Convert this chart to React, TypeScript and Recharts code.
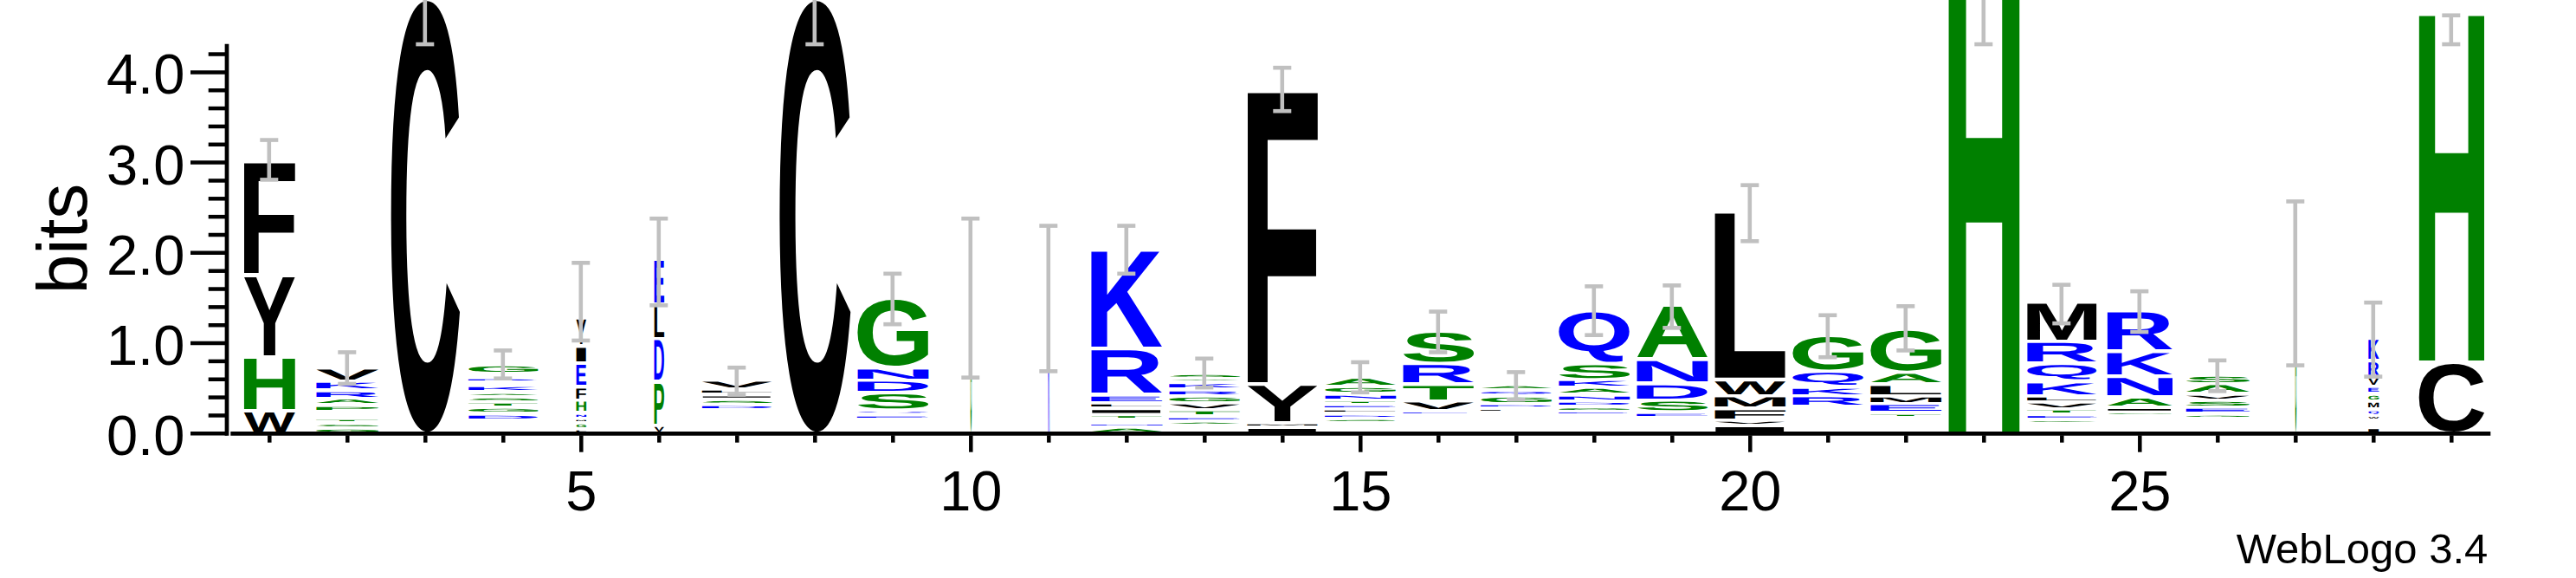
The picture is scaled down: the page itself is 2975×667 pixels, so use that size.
import { ComposedChart, Bar, XAxis, YAxis, ReferenceLine } from "recharts";

const FONT = '"Liberation Sans", Arial, Helvetica, sans-serif';

// sequence positions
const positions = [1, 2, 3, 4, 5, 6, 7, 8, 9, 10, 11, 12, 13, 14, 15, 16, 17, 18, 19, 20, 21, 22, 23, 24, 25, 26, 27, 28, 29];

// letters of every stack, from the bottom up
const stackLetters = [
  "WHYF",
  "GSTIEPARKV",
  "C",
  "WCMFYIDGTSAKNRQG",
  "LGMNHFEIY",
  "VPDLE",
  "WCMFYHQEDSILV",
  "C",
  "WCMFYEQSDNG",
  "G",
  "K",
  "ANSTILERK",
  "WCMAETVGRKAS",
  "IMYF",
  "WCMFSDLETNGA",
  "WCMFYHEVTRS",
  "WCMFYIHLDGQA",
  "WCMFYIEGDNAKSQ",
  "WCMFYESDNA",
  "IVFMWL",
  "WCMFYIHPRKQG",
  "WCFYITEMLAG",
  "H",
  "WCFSETVLKQRM",
  "WCMFYGIANKR",
  "WCMFYGESVAS",
  "G",
  "ILFWQMGEVRK",
  "CH",
];

// bits taken by each letter, same order as stackLetters
const stackBits = [
  [0.25, 0.6, 0.905, 1.265],
  [0.06, 0.055, 0.05, 0.04, 0.04, 0.07, 0.075, 0.09, 0.1, 0.15],
  [4.82],
  [0.025, 0.025, 0.025, 0.025, 0.025, 0.025, 0.07, 0.07, 0.06, 0.06, 0.05, 0.07, 0.04, 0.05, 0.04, 0.1],
  [0.05, 0.07, 0.05, 0.06, 0.14, 0.15, 0.26, 0.19, 0.31],
  [0.09, 0.485, 0.475, 0.38, 0.5],
  [0.0325, 0.0325, 0.0325, 0.0325, 0.0325, 0.0325, 0.0325, 0.0325, 0.06, 0.06, 0.05, 0.06, 0.1],
  [4.82],
  [0.032, 0.032, 0.032, 0.032, 0.032, 0.05, 0.045, 0.195, 0.14, 0.14, 0.77],
  [1.5],
  [1.5],
  [0.07, 0.045, 0.04, 0.055, 0.07, 0.06, 0.09, 0.51, 1.1],
  [0.03, 0.03, 0.03, 0.05, 0.05, 0.07, 0.08, 0.08, 0.07, 0.075, 0.045, 0.06],
  [0.07, 0.05, 0.43, 3.27],
  [0.03, 0.03, 0.03, 0.03, 0.05, 0.05, 0.05, 0.05, 0.05, 0.07, 0.08, 0.105],
  [0.034, 0.034, 0.034, 0.034, 0.034, 0.034, 0.046, 0.11, 0.19, 0.23, 0.36],
  [0.0336, 0.0336, 0.0336, 0.0336, 0.0336, 0.0336, 0.0336, 0.045, 0.05, 0.09, 0.06, 0.06],
  [0.0333, 0.0333, 0.0333, 0.0333, 0.0333, 0.0333, 0.045, 0.055, 0.06, 0.07, 0.08, 0.09, 0.18, 0.59],
  [0.036, 0.036, 0.036, 0.036, 0.036, 0.06, 0.13, 0.185, 0.265, 0.6],
  [0.09, 0.06, 0.13, 0.14, 0.18, 1.86],
  [0.0375, 0.0375, 0.0375, 0.0375, 0.0375, 0.0375, 0.0375, 0.0375, 0.12, 0.1, 0.17, 0.4],
  [0.036, 0.036, 0.036, 0.036, 0.036, 0.05, 0.1, 0.09, 0.13, 0.13, 0.48],
  [5.5],
  [0.0367, 0.0367, 0.0367, 0.045, 0.055, 0.06, 0.08, 0.07, 0.16, 0.195, 0.245, 0.44],
  [0.038, 0.038, 0.038, 0.038, 0.038, 0.045, 0.055, 0.115, 0.23, 0.275, 0.45],
  [0.034, 0.034, 0.034, 0.034, 0.034, 0.05, 0.07, 0.08, 0.07, 0.11, 0.1],
  [1.68],
  [0.065, 0.04, 0.04, 0.055, 0.07, 0.09, 0.08, 0.08, 0.11, 0.18, 0.25],
  [0.79, 3.89],
];

// relative stack width (columns with many gaps are drawn narrower)
const stackWidth = [
  0.72, 0.88, 0.97, 0.98, 0.14, 0.14, 0.99, 1, 1, 0.02, 0.02, 1, 1, 0.99, 1,
  1, 1, 1, 1, 1, 1, 1, 1, 0.98, 0.92, 0.9, 0.02, 0.15, 0.92,
];

// error bar ends, bits
const errLow = [
  2.81, 0.55, 4.31, 0.61, 1.03, 1.42, 0.43, 4.31, 1.21, 0.62, 0.69, 1.77, 0.51, 3.57, 0.456,
  0.9, 0.375, 1.09, 1.17, 2.13, 0.845, 0.92, 4.31, 1.22, 1.125, 0.47, 0.755, 0.63, 4.31,
];
const errHigh = [
  3.25, 0.9, 6.5, 0.92, 1.89, 2.38, 0.73, 6.5, 1.77, 2.38, 2.3, 2.3, 0.83, 4.05, 0.79,
  1.35, 0.68, 1.63, 1.64, 2.75, 1.31, 1.41, 6.5, 1.647, 1.575, 0.81, 2.57, 1.45, 4.63,
];

const yTicks = [0, 0.2, 0.4, 0.6, 0.8, 1, 1.2, 1.4, 1.6, 1.8, 2, 2.2, 2.4, 2.6, 2.8, 3, 3.2, 3.4, 3.6, 3.8, 4, 4.2];

const letterColor = (ch: string) =>
  "KRQNDE".includes(ch) ? "#0000ff" : "HGSTAP".includes(ch) ? "#008000" : "#000000";

// ink box of each glyph, so a letter can be stretched to fill its slot
const glyphBox: Record<string, { l: number; r: number; a: number; d: number }> = {};
{
  const ctx = document.createElement("canvas").getContext("2d");
  for (const ch of "ACDEFGHIKLMNPQRSTVWY") {
    let box = { l: -8, r: 136, a: 143, d: 0 };
    if (ctx) {
      ctx.font = `bold 200px ${FONT}`;
      const m = ctx.measureText(ch);
      if (m.actualBoundingBoxAscent + m.actualBoundingBoxDescent > 0) {
        box = {
          l: m.actualBoundingBoxLeft,
          r: m.actualBoundingBoxRight,
          a: m.actualBoundingBoxAscent,
          d: m.actualBoundingBoxDescent,
        };
      }
    }
    glyphBox[ch] = box;
  }
}

const maxSlots = Math.max(...stackLetters.map((s) => s.length));
const slots = Array.from({ length: maxSlots }, (_, i) => i);

const data = positions.map((p, i) => {
  const row: any = {
    pos: p,
    letters: stackLetters[i],
    w: stackWidth[i],
    errRange: [errLow[i], errHigh[i]],
  };
  slots.forEach((j) => {
    row[`s${j}`] = stackBits[i][j] ?? 0;
  });
  return row;
});

const makeGlyph = (slot: number) => (props: any) => {
  const { x, y, width, height, payload } = props;
  const ch = payload?.letters?.[slot];
  if (!ch || !(height > 4.4)) return <g />;
  const g = glyphBox[ch];
  const w = width * payload.w;
  const left = x + (width - w) / 2;
  const top = y + 2;
  const h = height - 4;
  const sx = w / (g.l + g.r);
  const sy = h / (g.a + g.d);
  return (
    <text
      transform={`translate(${left + g.l * sx},${top + g.a * sy}) scale(${sx},${sy})`}
      fontSize={200}
      fontWeight="bold"
      fontFamily={FONT}
      fill={letterColor(ch)}
      textRendering="geometricPrecision"
    >
      {ch}
    </text>
  );
};

// I-beam drawn over the range bar
const ErrorShape = (props: any) => {
  const { x, y, width, height } = props;
  const cx = x + width / 2;
  return (
    <g stroke="#c0c0c0" strokeWidth={4.6}>
      <line x1={cx} x2={cx} y1={y} y2={y + height} />
      <line x1={x} x2={x + width} y1={y} y2={y} />
      <line x1={x} x2={x + width} y1={y + height} y2={y + height} />
    </g>
  );
};

const YTick = ({ x, y, payload }: any) => {
  const v = payload.value;
  const major = Math.abs(v - Math.round(v)) < 1e-6;
  return (
    <g>
      <line x1={x - (major ? 46.3 : 25.6)} x2={x - 4} y1={y} y2={y} stroke="#000" strokeWidth={4.5} />
      {major && (
        <text x={x - 53} y={y + 25} textAnchor="end" fontSize={65} fontFamily={FONT} fill="#000">
          {v.toFixed(1)}
        </text>
      )}
    </g>
  );
};

const XTick = ({ x, y, payload }: any) => {
  const v = payload.value;
  const major = v % 5 === 0;
  return (
    <g>
      <line x1={x} x2={x} y1={y + 2} y2={y + (major ? 21.4 : 10.4)} stroke="#000" strokeWidth={4.5} />
      {major && (
        <text x={x} y={y + 88.5} textAnchor="middle" fontSize={65} fontFamily={FONT} fill="#000">
          {v}
        </text>
      )}
    </g>
  );
};

const BitsLabel = ({ viewBox }: any) => (
  <text
    transform={`translate(${viewBox.x + 100},${viewBox.y + viewBox.height - 224.8}) rotate(-90)`}
    textAnchor="middle"
    fontSize={82}
    fontFamily={FONT}
    fill="#000"
  >
    bits
  </text>
);

const VersionLabel = ({ viewBox }: any) => (
  <text
    x={viewBox.x + viewBox.width - 3}
    y={viewBox.y + 150}
    textAnchor="end"
    fontSize={49}
    fontFamily={FONT}
    fill="#000"
  >
    WebLogo 3.4
  </text>
);

export default function App() {
  return (
    <div style={{ position: "absolute", left: 0, top: 0, background: "#fff" }}>
      <ComposedChart
        width={2975}
        height={667}
        data={data}
        margin={{ top: -177.19, right: 98.7, bottom: 0, left: 0 }}
      >
        <XAxis
          dataKey="pos"
          type="number"
          domain={[0.5, 29.5]}
          ticks={positions}
          interval={0}
          height={166.7}
          tickSize={0}
          tickMargin={0}
          tickLine={false}
          axisLine={{ stroke: "#000", strokeWidth: 4.7 }}
          tick={<XTick />}
          label={<VersionLabel />}
        />
        <XAxis xAxisId="err" dataKey="pos" type="number" domain={[0.5, 29.5]} hide />
        <YAxis
          type="number"
          domain={[0, 6.5]}
          ticks={yTicks}
          interval={0}
          width={266.3}
          tickSize={0}
          tickMargin={0}
          tickLine={false}
          axisLine={false}
          tick={<YTick />}
          label={<BitsLabel />}
        />
        <ReferenceLine
          segment={[
            { x: 0.452, y: -0.023 },
            { x: 0.452, y: 4.313 },
          ]}
          stroke="#000"
          strokeWidth={4.7}
          ifOverflow="visible"
        />
        {slots.map((j) => (
          <Bar
            key={j}
            dataKey={`s${j}`}
            stackId="logo"
            barSize={82}
            shape={makeGlyph(j)}
            isAnimationActive={false}
          />
        ))}
        <Bar
          xAxisId="err"
          dataKey="errRange"
          barSize={21}
          shape={<ErrorShape />}
          isAnimationActive={false}
        />
      </ComposedChart>
    </div>
  );
}
